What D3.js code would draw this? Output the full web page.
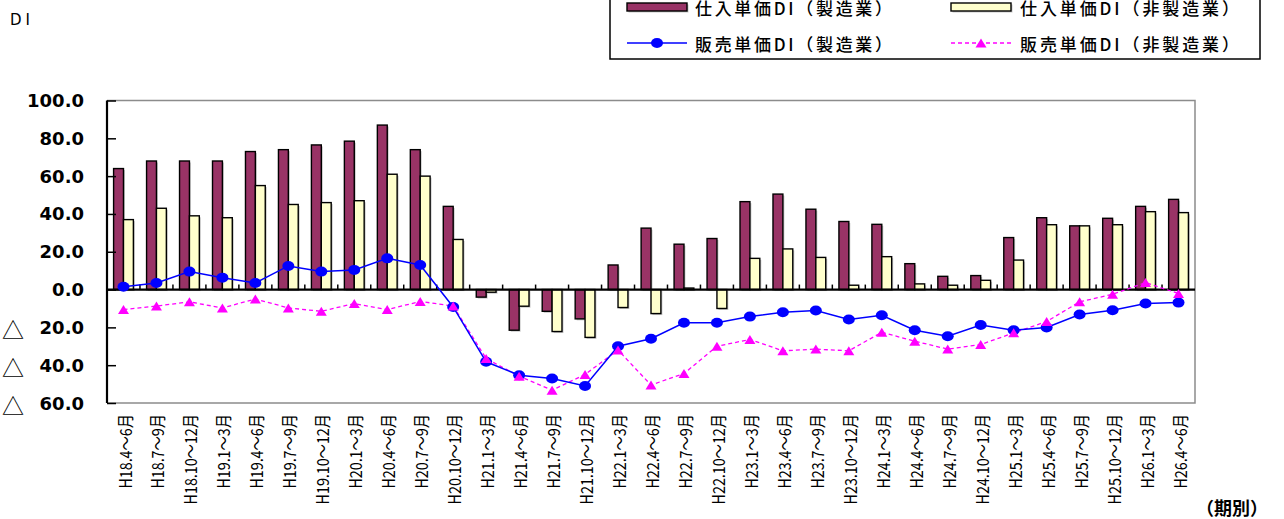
<!DOCTYPE html>
<html>
<head>
<meta charset="utf-8">
<script src="https://cdn.jsdelivr.net/npm/d3@7"></script>
<style>
  html, body { margin: 0; padding: 0; background: #fff; }
  svg { display: block; }
  text { font-family: "Noto Sans CJK JP", "DejaVu Sans", sans-serif; fill: #000; }
</style>
</head>
<body>
<svg id="chart" width="1284" height="519"></svg>
<script>
// 四半期（期別）
const categories = [
  "H18.4～6月", "H18.7～9月", "H18.10～12月", "H19.1～3月", "H19.4～6月", "H19.7～9月",
  "H19.10～12月", "H20.1～3月", "H20.4～6月", "H20.7～9月", "H20.10～12月", "H21.1～3月",
  "H21.4～6月", "H21.7～9月", "H21.10～12月", "H22.1～3月", "H22.4～6月", "H22.7～9月",
  "H22.10～12月", "H23.1～3月", "H23.4～6月", "H23.7～9月", "H23.10～12月", "H24.1～3月",
  "H24.4～6月", "H24.7～9月", "H24.10～12月", "H25.1～3月", "H25.4～6月", "H25.7～9月",
  "H25.10～12月", "H26.1～3月", "H26.4～6月"
];

// 仕入単価DI（製造業）
const purchaseMfg = [
  64, 68, 68, 68, 73, 74, 76.5, 78.5, 87, 74, 44, -4,
  -21.5, -11.5, -15.5, 13, 32.5, 24, 27, 46.5, 50.5, 42.5, 36, 34.5,
  13.7, 7, 7.4, 27.5, 38, 33.7, 37.7, 44, 47.7
];

// 仕入単価DI（非製造業）
const purchaseNonMfg = [
  37, 43, 39, 38, 55, 45, 46, 47, 61, 60, 26.5, -1.4,
  -8.8, -22.2, -25.3, -9.5, -12.7, 0.8, -10, 16.5, 21.5, 17, 2.3, 17.4,
  3, 2.3, 4.9, 15.6, 34.3, 33.7, 34.3, 41.2, 40.7
];

// 販売単価DI（製造業）
const salesMfg = [
  1.5, 3.5, 9.5, 6.3, 3.5, 12.5, 9.5, 10.4, 16.5, 13, -9.2, -38.2,
  -45.3, -47, -51, -30, -26, -17.6, -17.6, -14.3, -12, -11.1, -15.8, -13.6,
  -21.5, -24.7, -18.7, -21.5, -20.1, -13.2, -10.9, -7.4, -6.9
];

// 販売単価DI（非製造業）
const salesNonMfg = [
  -10.6, -8.7, -6.5, -9.7, -5, -9.7, -11.5, -7.4, -10.6, -6.3, -8.7, -36.5,
  -45.8, -53.2, -44.9, -32, -50.5, -44.4, -30, -26.4, -32.4, -31.5, -32.4, -22.6,
  -27.3, -31.5, -29.1, -22.9, -16.9, -6.5, -2.5, 3.7, -2.1
];

const yTicks = [100, 80, 60, 40, 20, 0, -20, -40, -60];

const legendItems = [
  { name: "仕入単価DI（製造業）", kind: "bar", fill: "#993366" },
  { name: "仕入単価DI（非製造業）", kind: "bar", fill: "#FFFFCC" },
  { name: "販売単価DI（製造業）", kind: "circle", color: "#0000FF" },
  { name: "販売単価DI（非製造業）", kind: "triangle", color: "#FF00FF" }
];

const svg = d3.select("#chart");
const plot = { left: 107, right: 1195, top: 100.5, bottom: 403 };

const x = d3.scaleBand().domain(categories).range([plot.left, plot.right]).padding(0);
const y = d3.scaleLinear().domain([-60, 100]).range([plot.bottom, plot.top]);
const barW = x.bandwidth() * 0.3;
const cx = c => x(c) + x.bandwidth() / 2;

const triPath = "M0,-4.5L5.5,4.5L-5.5,4.5Z";

// plot frame (top / right / bottom in grey)
svg.append("path")
  .attr("d", `M${plot.left},${plot.top}H${plot.right}V${plot.bottom}H${plot.left}`)
  .attr("fill", "none").attr("stroke", "#8c8c8c").attr("stroke-width", 1.5);

// bars, each with a faint drop shadow
const bars = svg.append("g");
function drawBars(values, cls, offset, fill) {
  bars.selectAll(`rect.${cls}-sh`).data(categories).join("rect")
    .attr("class", `${cls}-sh`)
    .attr("x", c => cx(c) + offset + 1.5)
    .attr("width", barW)
    .attr("y", (c, i) => y(Math.max(0, values[i])) + 1.5)
    .attr("height", (c, i) => Math.abs(y(values[i]) - y(0)))
    .attr("fill", "#c8c8c8");
  bars.selectAll(`rect.${cls}`).data(categories).join("rect")
    .attr("class", cls)
    .attr("x", c => cx(c) + offset)
    .attr("width", barW)
    .attr("y", (c, i) => y(Math.max(0, values[i])))
    .attr("height", (c, i) => Math.abs(y(values[i]) - y(0)))
    .attr("fill", fill).attr("stroke", "#000").attr("stroke-width", 1.4);
}
drawBars(purchaseMfg, "mfg", -barW, "#993366");
drawBars(purchaseNonMfg, "non", 0, "#FFFFCC");

// y axis with inward ticks
const yAxis = svg.append("g").attr("transform", `translate(${plot.left},0)`)
  .call(d3.axisRight(y).tickValues(yTicks).tickSize(9).tickFormat(""));
yAxis.select(".domain").attr("stroke", "#000").attr("stroke-width", 2.2)
  .attr("d", `M0,${plot.top}V${plot.bottom}`);
yAxis.selectAll(".tick line").attr("stroke", "#000").attr("stroke-width", 1.5);

const yLab = svg.append("g");
yLab.selectAll("text.num").data(yTicks).join("text")
  .attr("class", "num")
  .attr("x", 84).attr("y", d => y(d))
  .attr("dominant-baseline", "central")
  .attr("text-anchor", "end")
  .style("font-family", "'DejaVu Sans', sans-serif")
  .style("font-weight", "bold")
  .style("font-size", "18px")
  .text(d => Math.abs(d).toFixed(1));
yLab.selectAll("text.neg").data(yTicks.filter(d => d < 0)).join("text")
  .attr("class", "neg")
  .attr("x", 2).attr("y", d => y(d) + 1)
  .attr("dominant-baseline", "central")
  .style("font-size", "22px")
  .text("△");

// category axis on the zero line, ticks between categories pointing up
const bounds = categories.slice(1).map(c => x(c));
svg.append("g").selectAll("line").data(bounds).join("line")
  .attr("x1", d => d).attr("x2", d => d)
  .attr("y1", y(0)).attr("y2", y(0) - 5)
  .attr("stroke", "#000").attr("stroke-width", 1.5);
svg.append("line")
  .attr("x1", plot.left).attr("x2", plot.right)
  .attr("y1", y(0)).attr("y2", y(0))
  .attr("stroke", "#000").attr("stroke-width", 2.2);

// category labels (rotated, condensed)
svg.append("g").selectAll("text").data(categories).join("text")
  .attr("transform", c => `translate(${cx(c) + 1},414) rotate(-90) scale(0.84,1)`)
  .attr("text-anchor", "end")
  .attr("dominant-baseline", "central")
  .style("font-size", "17px")
  .text(c => c);

// lines
const lineGen = d3.line().x((d, i) => cx(categories[i])).y(d => y(d));
svg.append("path").datum(salesNonMfg)
  .attr("d", lineGen)
  .attr("fill", "none").attr("stroke", "#FF00FF").attr("stroke-width", 1.3)
  .attr("stroke-dasharray", "4,3");
svg.append("path").datum(salesMfg)
  .attr("d", lineGen)
  .attr("fill", "none").attr("stroke", "#0000FF").attr("stroke-width", 1.5);

svg.append("g").selectAll("ellipse").data(salesMfg).join("ellipse")
  .attr("cx", (d, i) => cx(categories[i])).attr("cy", d => y(d))
  .attr("rx", 6).attr("ry", 5).attr("fill", "#0000FF");

svg.append("g").selectAll("path").data(salesNonMfg).join("path")
  .attr("transform", (d, i) => `translate(${cx(categories[i])},${y(d)})`)
  .attr("d", triPath).attr("fill", "#FF00FF");

// axis titles
svg.append("text").attr("x", 10).attr("y", 20)
  .attr("dominant-baseline", "central")
  .style("font-family", "'DejaVu Sans', sans-serif")
  .style("font-size", "15px").style("letter-spacing", "4px")
  .text("DI");
svg.append("text").attr("x", 1196).attr("y", 507)
  .attr("dominant-baseline", "central")
  .style("font-size", "18px").style("font-weight", "bold")
  .text("（期別）");

// legend
const legend = svg.append("g");
legend.append("rect").attr("x", 610).attr("y", -5).attr("width", 650).attr("height", 64)
  .attr("fill", "#fff").attr("stroke", "#000").attr("stroke-width", 1.5);
const legPos = [
  { sx: 627, tx: 695, ty: 7, tl: 197 },
  { sx: 951, tx: 1020, ty: 7, tl: 219 },
  { sx: 627, tx: 695, ty: 43, tl: 197 },
  { sx: 951, tx: 1020, ty: 43, tl: 219 }
];
legendItems.forEach((it, i) => {
  const p = legPos[i];
  if (it.kind === "bar") {
    legend.append("rect").attr("x", p.sx + 1.5).attr("y", p.ty - 2.5).attr("width", 60).attr("height", 8)
      .attr("fill", "#c8c8c8");
    legend.append("rect").attr("x", p.sx).attr("y", p.ty - 4).attr("width", 60).attr("height", 8)
      .attr("fill", it.fill).attr("stroke", "#000").attr("stroke-width", 1.4);
  } else {
    legend.append("line").attr("x1", p.sx).attr("x2", p.sx + 60)
      .attr("y1", p.ty).attr("y2", p.ty)
      .attr("stroke", it.color).attr("stroke-width", it.kind === "circle" ? 1.5 : 1.3)
      .attr("stroke-dasharray", it.kind === "triangle" ? "4,3" : null);
    if (it.kind === "circle") {
      legend.append("ellipse").attr("cx", p.sx + 30).attr("cy", p.ty)
        .attr("rx", 6).attr("ry", 5).attr("fill", it.color);
    } else {
      legend.append("path").attr("transform", `translate(${p.sx + 30},${p.ty})`)
        .attr("d", triPath).attr("fill", it.color);
    }
  }
  legend.append("text").attr("x", p.tx).attr("y", p.ty)
    .attr("dominant-baseline", "central")
    .attr("textLength", p.tl).attr("lengthAdjust", "spacing")
    .style("font-size", "17px").style("font-weight", "500")
    .text(it.name);
});
</script>
</body>
</html>
